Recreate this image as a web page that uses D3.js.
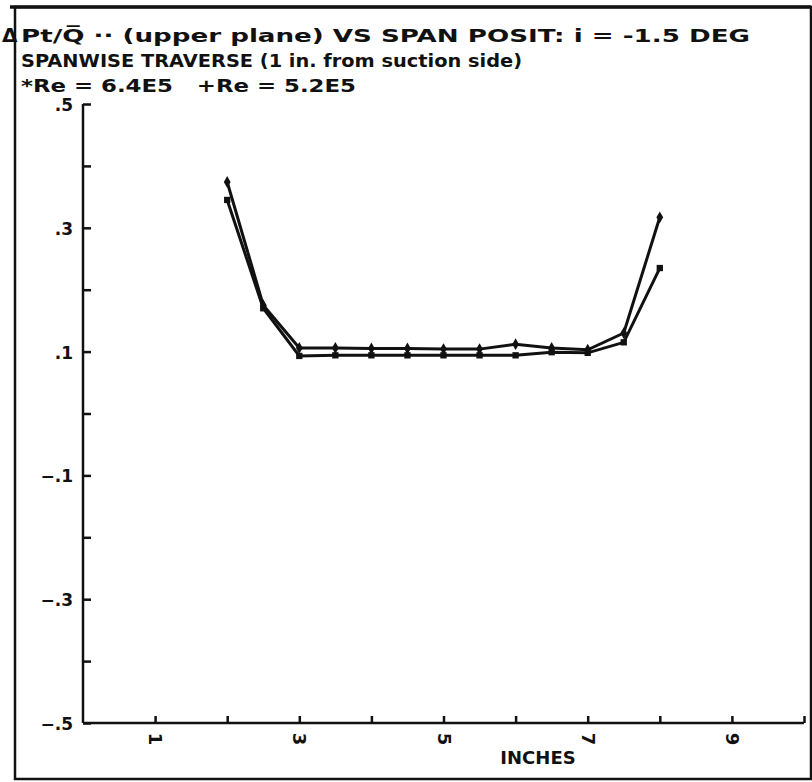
<!DOCTYPE html>
<html>
<head>
<meta charset="utf-8">
<script src="https://cdn.jsdelivr.net/npm/d3@7"></script>
<style>
  html, body { margin: 0; padding: 0; background: #fff; }
  svg { display: block; }
  text { font-family: "DejaVu Sans", sans-serif; font-weight: bold; fill: #111; }
</style>
</head>
<body>
<div id="chart"></div>
<script>
// Span positions (inches)
const spanPos = [2, 2.5, 3, 3.5, 4, 4.5, 5, 5.5, 6, 6.5, 7, 7.5, 8];
// +Re = 5.2E5
const re52 = [0.374, 0.175, 0.106, 0.106, 0.105, 0.105, 0.104, 0.104, 0.112, 0.106, 0.103, 0.130, 0.317];
// *Re = 6.4E5
const re64 = [0.345, 0.170, 0.093, 0.094, 0.094, 0.094, 0.094, 0.094, 0.094, 0.099, 0.098, 0.115, 0.235];

const yTicks = [-0.5, -0.4, -0.3, -0.2, -0.1, 0, 0.1, 0.2, 0.3, 0.4, 0.5];
const yLabels = [-0.5, -0.3, -0.1, 0.1, 0.3, 0.5];
const xTicks = [1, 2, 3, 4, 5, 6, 7, 8, 9, 10];
const xLabels = [1, 3, 5, 7, 9];

const titleLines = [
  'Pt/Q\u0305 \u00b7\u00b7 (upper plane) VS SPAN POSIT: i = -1.5 DEG',
  'SPANWISE TRAVERSE (1 in. from suction side)',
  '*Re = 6.4E5   +Re = 5.2E5'
];
const titleWidths = [729, 501, 335];

const width = 812, height = 782;
const margin = { top: 104, right: 8, bottom: 60, left: 83 };

const svg = d3.select('#chart').append('svg')
  .attr('width', width)
  .attr('height', height);

// outer frame (top edge drawn heavier, like the plot sheet)
svg.append('rect')
  .attr('x', 15).attr('y', 7)
  .attr('width', 796).attr('height', 772)
  .attr('fill', 'none')
  .attr('stroke', '#111')
  .attr('stroke-width', 2.5);
svg.append('line')
  .attr('x1', 10).attr('x2', 811)
  .attr('y1', 7).attr('y2', 7)
  .attr('stroke', '#111')
  .attr('stroke-width', 3.5);

// title
svg.append('text')
  .attr('x', 2).attr('y', 42)
  .attr('font-size', 20)
  .attr('font-weight', 'normal')
  .text('\u0394');

svg.selectAll('.title')
  .data(titleLines)
  .join('text')
  .attr('class', 'title')
  .attr('x', 21)
  .attr('y', (d, i) => 42 + i * 25)
  .attr('font-size', 18)
  .attr('textLength', (d, i) => titleWidths[i])
  .attr('lengthAdjust', 'spacingAndGlyphs')
  .style('white-space', 'pre')
  .text(d => d);

// scales
const x = d3.scaleLinear().domain([0, 10]).range([margin.left, 804]);
const y = d3.scaleLinear().domain([-0.5, 0.5]).range([723, margin.top]);

const fmt = v => d3.format('.1f')(v).replace('0.', '.');

// y axis, ticks pointing into the plot
const yAxis = svg.append('g')
  .attr('transform', `translate(${margin.left},0)`)
  .call(d3.axisRight(y).tickValues(yTicks).tickSize(8).tickFormat(''));
yAxis.select('.domain').attr('d', `M0,${y(0.5)}V${y(-0.5)}`);
yAxis.selectAll('path, line').attr('stroke', '#111').attr('stroke-width', 2.5);

svg.selectAll('.ylab')
  .data(yLabels)
  .join('text')
  .attr('class', 'ylab')
  .attr('x', margin.left - 10)
  .attr('y', d => y(d) + 7)
  .attr('text-anchor', 'end')
  .attr('font-size', 17)
  .text(fmt);

// x axis, ticks pointing up
const xAxis = svg.append('g')
  .attr('transform', `translate(0,${y(-0.5)})`)
  .call(d3.axisTop(x).tickValues(xTicks).tickSize(7).tickFormat(''));
xAxis.select('.domain').attr('d', `M${x(0)},0H${x(10)}`);
xAxis.selectAll('path, line').attr('stroke', '#111').attr('stroke-width', 2.5);

svg.selectAll('.xlab')
  .data(xLabels)
  .join('text')
  .attr('class', 'xlab')
  .attr('transform', d => `translate(${x(d) - 6},${y(-0.5) + 16}) rotate(90)`)
  .attr('text-anchor', 'middle')
  .attr('font-size', 18)
  .text(d => d);

svg.append('text')
  .attr('x', 538).attr('y', 764)
  .attr('text-anchor', 'middle')
  .attr('font-size', 18)
  .text('INCHES');

// series
const line = d3.line()
  .x(d => x(d[0]))
  .y(d => y(d[1]));

const series = [
  { key: '+', values: spanPos.map((p, i) => [p, re52[i]]), symbol: d3.symbolDiamond },
  { key: '*', values: spanPos.map((p, i) => [p, re64[i]]), symbol: d3.symbolSquare }
];

svg.selectAll('.series')
  .data(series)
  .join('path')
  .attr('class', 'series')
  .attr('d', d => line(d.values))
  .attr('fill', 'none')
  .attr('stroke', '#111')
  .attr('stroke-width', 3);

series.forEach(s => {
  svg.selectAll(null)
    .data(s.values)
    .join('path')
    .attr('transform', d => `translate(${x(d[0])},${y(d[1])})`)
    .attr('d', d3.symbol().type(s.symbol).size(40))
    .attr('fill', '#111');
});
</script>
</body>
</html>
